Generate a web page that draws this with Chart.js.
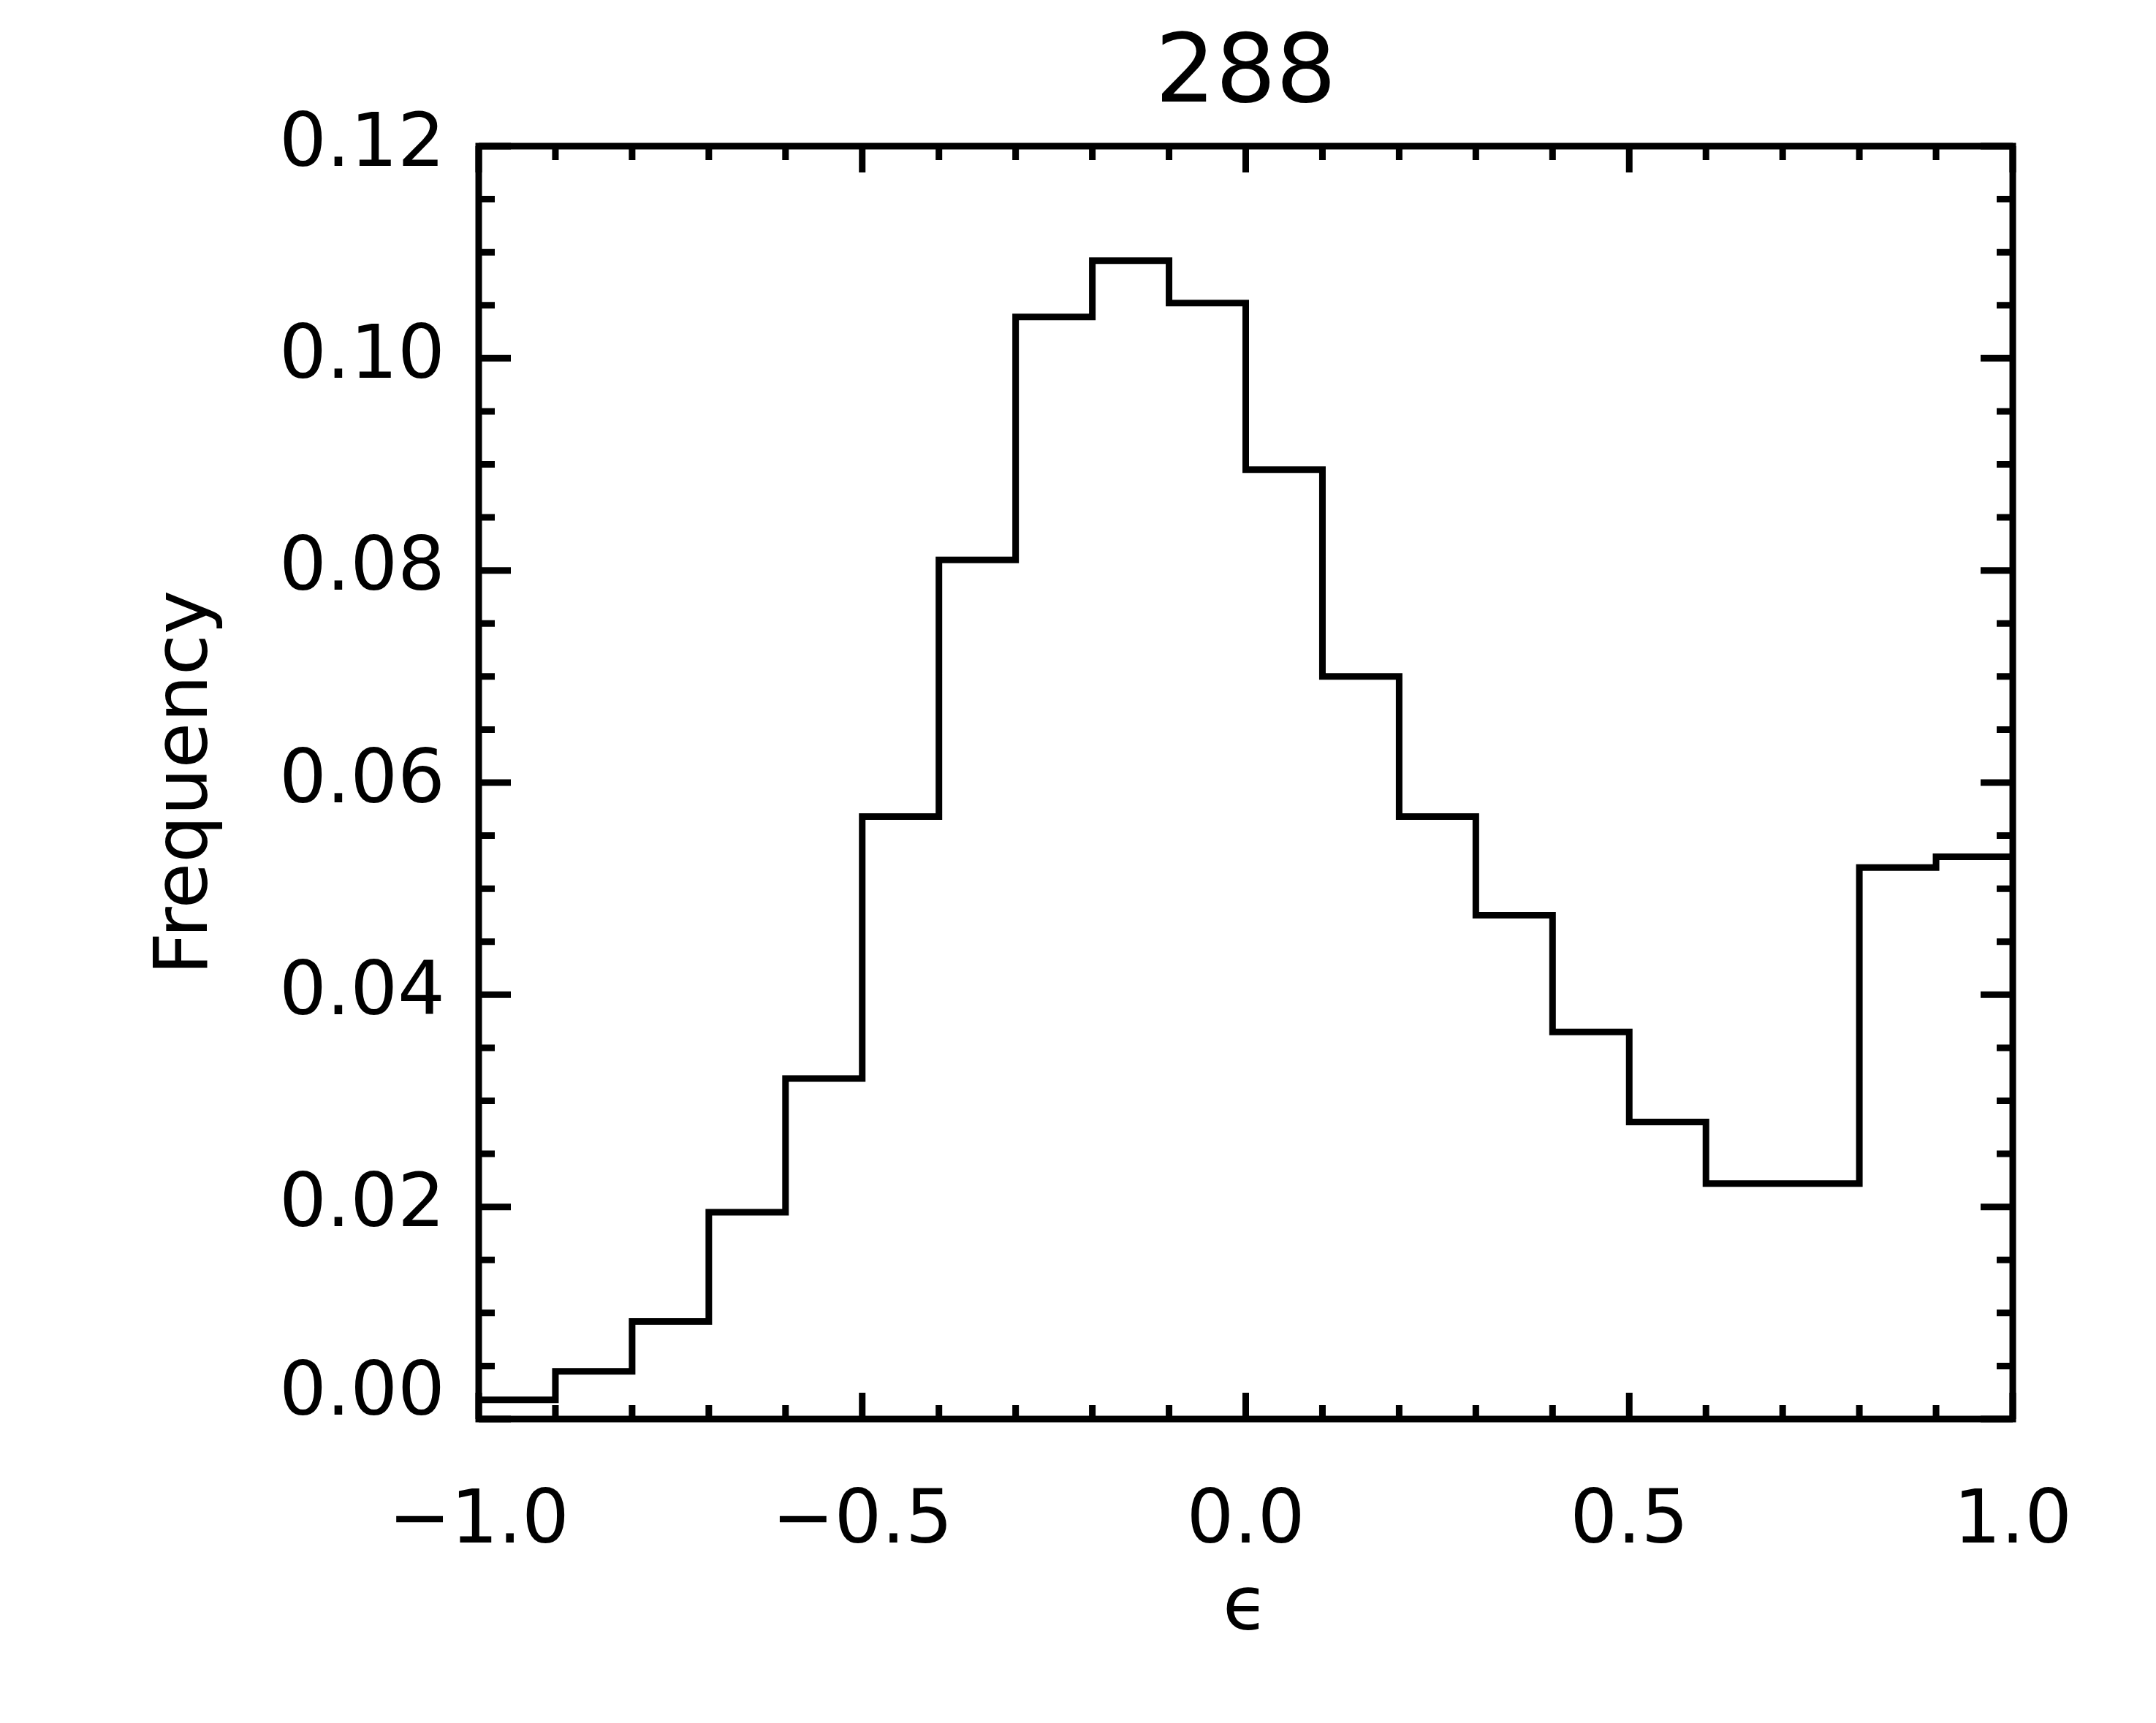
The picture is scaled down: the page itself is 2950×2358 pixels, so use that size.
<!DOCTYPE html>
<html>
<head>
<meta charset="utf-8">
<script src="https://cdn.jsdelivr.net/npm/chart.js@4/dist/chart.umd.min.js"></script>
<style>
  html, body { margin: 0; padding: 0; background: #ffffff; }
  #wrap { width: 2950px; height: 2358px; }
</style>
</head>
<body>
<div id="wrap"><canvas id="c" width="2950" height="2358"></canvas></div>
<script>
// ---- data ----
const binStarts = [-1.0, -0.9, -0.8, -0.7, -0.6, -0.5, -0.4, -0.3, -0.2, -0.1,
                   0.0, 0.1, 0.2, 0.3, 0.4, 0.5, 0.6, 0.7, 0.8, 0.9];
const binEnd = 1.0;
const frequency = [0.0018, 0.0045, 0.0092, 0.0195, 0.0321, 0.0568, 0.0810, 0.1039, 0.1092, 0.1052,
                   0.0895, 0.0700, 0.0568, 0.0475, 0.0365, 0.0280, 0.0222, 0.0222, 0.0520, 0.0530];
const xTickValues = [-1.0, -0.5, 0.0, 0.5, 1.0];
const xMinorValues = [-0.9, -0.8, -0.7, -0.6, -0.4, -0.3, -0.2, -0.1, 0.1, 0.2, 0.3, 0.4, 0.6, 0.7, 0.8, 0.9];
const yTickValues = [0.00, 0.02, 0.04, 0.06, 0.08, 0.10, 0.12];
const yMinorValues = [0.005, 0.010, 0.015, 0.025, 0.030, 0.035, 0.045, 0.050, 0.055, 0.065, 0.070, 0.075,
                      0.085, 0.090, 0.095, 0.105, 0.110, 0.115];
const titleText = '288';
const xTitle = '\u03F5';
const yTitle = 'Frequency';

// ---- build step points from the bins ----
const points = binStarts.map((x, i) => ({ x: x, y: frequency[i] }));
points.push({ x: binEnd, y: frequency[frequency.length - 1] });

const FONT = 'DejaVu Sans';
const LW = 9;

const framePlugin = {
  id: 'frame',
  afterDatasetsDraw(chart) {
    const { ctx, chartArea: a, scales } = chart;
    const xs = scales.x, ys = scales.y;
    ctx.save();
    ctx.strokeStyle = '#000';
    ctx.lineWidth = LW;
    ctx.lineCap = 'butt';
    ctx.beginPath();
    xTickValues.forEach(v => {
      const px = xs.getPixelForValue(v);
      ctx.moveTo(px, a.bottom); ctx.lineTo(px, a.bottom - 36);
      ctx.moveTo(px, a.top); ctx.lineTo(px, a.top + 36);
    });
    xMinorValues.forEach(v => {
      const px = xs.getPixelForValue(v);
      ctx.moveTo(px, a.bottom); ctx.lineTo(px, a.bottom - 19);
      ctx.moveTo(px, a.top); ctx.lineTo(px, a.top + 19);
    });
    yTickValues.forEach(v => {
      const py = ys.getPixelForValue(v);
      ctx.moveTo(a.left, py); ctx.lineTo(a.left + 44, py);
      ctx.moveTo(a.right, py); ctx.lineTo(a.right - 44, py);
    });
    yMinorValues.forEach(v => {
      const py = ys.getPixelForValue(v);
      ctx.moveTo(a.left, py); ctx.lineTo(a.left + 22, py);
      ctx.moveTo(a.right, py); ctx.lineTo(a.right - 22, py);
    });
    ctx.stroke();
    ctx.lineJoin = 'miter';
    ctx.strokeRect(a.left, a.top, a.right - a.left, a.bottom - a.top);
    ctx.restore();
  }
};

new Chart(document.getElementById('c').getContext('2d'), {
  type: 'line',
  data: {
    datasets: [{
      data: points,
      stepped: true,
      borderColor: '#000000',
      borderWidth: LW,
      pointRadius: 0,
      fill: false,
      tension: 0
    }]
  },
  options: {
    responsive: false,
    animation: false,
    devicePixelRatio: 1,
    layout: { padding: { left: 0, right: 196, top: 0, bottom: 0 } },
    plugins: {
      legend: { display: false },
      tooltip: { enabled: false },
      title: {
        display: true,
        text: titleText,
        fullSize: false,
        color: '#000000',
        font: { family: FONT, size: 130, weight: 'normal', lineHeight: 1.2 },
        padding: { top: 27, bottom: 17 }
      }
    },
    scales: {
      x: {
        type: 'linear',
        min: -1.0,
        max: 1.0,
        grid: { display: false },
        border: { display: false },
        afterBuildTicks: s => { s.ticks = xTickValues.map(v => ({ value: v })); },
        afterFit: s => { s.height = 416; },
        ticks: {
          autoSkip: false,
          maxRotation: 0,
          padding: 73,
          color: '#000000',
          font: { family: FONT, size: 102, lineHeight: 1.2 },
          callback: v => (v < 0 ? '\u2212' + Math.abs(v).toFixed(1) : v.toFixed(1))
        },
        title: {
          display: true,
          text: xTitle,
          color: '#000000',
          font: { family: FONT, size: 102, lineHeight: 1.2 },
          padding: { top: 0, bottom: 93 }
        }
      },
      y: {
        type: 'linear',
        min: 0,
        max: 0.12,
        grid: { display: false },
        border: { display: false },
        afterBuildTicks: s => { s.ticks = yTickValues.map(v => ({ value: v })); },
        afterFit: s => { s.width = 655; },
        ticks: {
          autoSkip: false,
          padding: 38,
          color: '#000000',
          font: { family: FONT, size: 102, lineHeight: 0.635 },
          callback: v => (v === 0 ? ['0.00', ''] : v.toFixed(2))
        },
        title: {
          display: true,
          text: yTitle,
          color: '#000000',
          font: { family: FONT, size: 102, lineHeight: 1.2 },
          padding: { top: 195, bottom: 0 }
        }
      }
    }
  },
  plugins: [framePlugin]
});
</script>
</body>
</html>
